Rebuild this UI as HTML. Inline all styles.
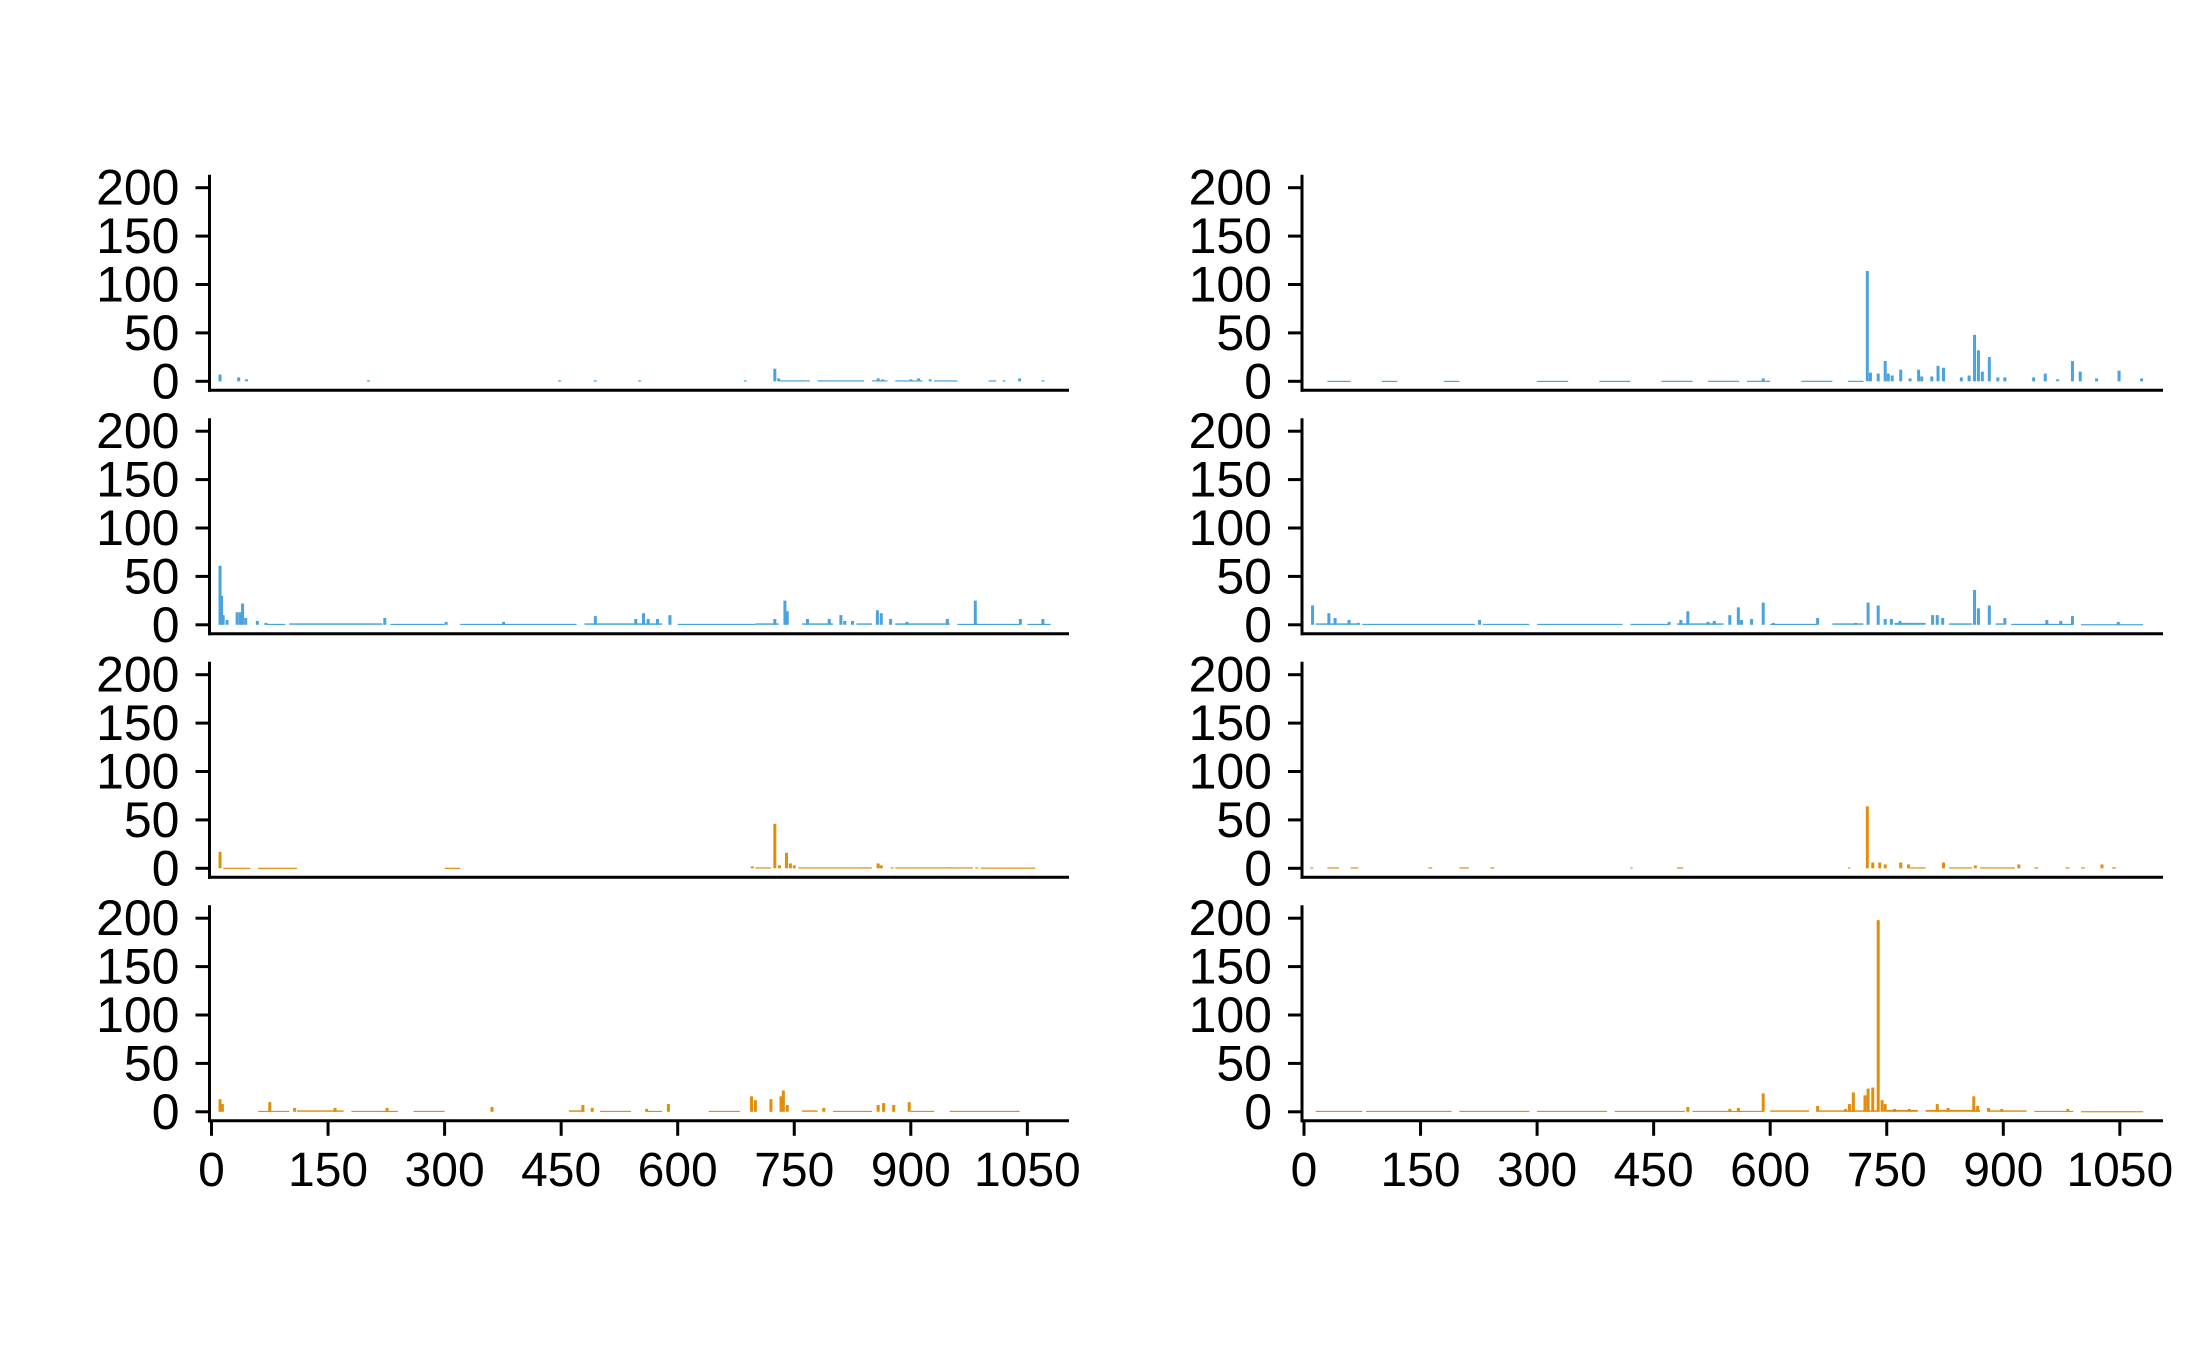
<!DOCTYPE html>
<html><head><meta charset="utf-8"><style>
html,body{margin:0;padding:0;background:#fff;}
svg{display:block;}
text{font-family:"Liberation Sans",Arial,sans-serif;font-size:50px;fill:#000;}
text.xl{font-size:48px;}
</style></head><body>
<svg id="chart" width="2187" height="1351" viewBox="0 0 2187 1351" xmlns="http://www.w3.org/2000/svg"></svg>
<script>
// ----- data -----
const xTicks = [0,150,300,450,600,750,900,1050];
const yTicks = [0,50,100,150,200];
const panelNames = ['left-1','left-2','left-3','left-4','right-1','right-2','right-3','right-4'];
const panelColors = ['#4aa3df','#4aa3df','#e08e0b','#e08e0b','#4aa3df','#4aa3df','#e08e0b','#e08e0b'];
// peak bars: positions and values
const p1x = [11,35,45,202,448,494,551,687,725,730,760,785,858,864,900,910,925,1020,1040,1070];
const p1v = [7,4,2,1,1,1,1,1,13,3,1,1,3,2,2,3,2,1,3,1];
const p2x = [11,13,15,20,33,37,40,44,59,70,223,302,376,494,546,556,562,574,590,725,738,741,767,795,810,815,825,857,862,874,895,947,983,1041,1070];
const p2v = [61,30,10,5,13,13,22,7,4,2,7,3,3,9,6,12,6,6,10,6,25,14,6,6,10,4,4,15,12,6,3,6,25,6,6];
const p3x = [11,696,725,731,740,745,750,858,862,840,876,950,985];
const p3v = [17,2,46,3,16,5,3,5,3,1,1,1,1];
const p4x = [11,14,75,107,159,226,361,478,490,560,588,695,700,720,733,736,741,788,858,865,878,898];
const p4v = [13,8,10,4,4,4,5,7,4,3,8,16,12,13,16,22,7,4,7,9,7,10];
const p5x = [591,725,729,739,748,752,757,768,780,791,795,808,816,823,846,856,863,868,873,882,893,902,939,954,970,989,999,1020,1049,1078];
const p5v = [3,114,9,8,21,8,6,12,3,12,5,5,16,14,4,6,48,32,10,25,4,4,4,8,2,21,10,3,11,3];
const p6x = [11,32,40,58,70,226,470,485,494,520,528,548,559,563,576,591,604,661,710,726,739,748,756,767,809,815,822,863,868,882,902,956,974,989,1048];
const p6v = [20,12,7,5,2,5,3,5,14,3,4,10,18,5,6,23,2,7,2,23,20,6,6,4,10,10,7,36,17,20,7,5,4,9,3];
const p7x = [10,725,732,741,748,768,778,823,864,920,1027];
const p7v = [1,64,6,6,4,6,4,6,3,4,4];
const p8x = [494,548,559,591,661,697,702,707,722,726,732,739,744,748,760,779,815,829,862,867,881,898,983];
const p8v = [5,3,4,19,6,3,8,20,17,24,25,198,12,8,3,3,8,4,16,6,4,3,3];
// baseline segments: start, end, value
const b1s = [730,780,850,880,930,1000]; const b1e = [770,840,870,915,960,1010]; const b1v = [1,1,1,1,1,1];
const b2s = [70,100,230,320,480,600,700,760,830,880,960,1050]; const b2e = [95,220,300,470,580,700,730,800,850,950,1040,1080]; const b2v = [1,1.5,1,1,1.5,1,1.5,1.5,1.5,1.5,1,1];
const b3s = [15,60,300,700,755,880,990]; const b3e = [50,110,320,720,850,980,1060]; const b3v = [0.6,0.6,0.6,1,1,1,0.8];
const b4s = [60,110,180,260,460,500,560,640,760,800,900,950]; const b4e = [100,170,240,300,480,540,580,680,780,850,930,1040]; const b4v = [1,1.5,1,1,1.5,1,1,1,1.5,1,1,1];
const b5s = [30,100,180,300,380,460,520,570,640,700]; const b5e = [60,120,200,340,420,500,560,600,680,720]; const b5v = [0.5,0.5,0.5,0.5,0.5,0.6,0.6,0.6,0.6,0.6];
const b6s = [15,75,230,300,420,480,600,680,760,830,890,910,1000]; const b6e = [70,220,290,410,470,540,660,720,800,860,900,990,1080]; const b6v = [1.5,1,1,1,1,1.5,1,1.5,2,1.5,1.5,1,0.7];
const b7s = [30,60,160,200,240,420,480,700,780,830,870,940,980,1000,1040]; const b7e = [45,70,165,212,245,423,488,703,800,860,915,945,985,1005,1045]; const b7v = [1,1,1,1,1,1,1,1,1,1,1,1,1,1,1];
const b8s = [15,80,200,300,400,500,600,660,750,800,880,940,1000]; const b8e = [75,190,290,390,490,590,650,740,790,870,930,990,1080]; const b8v = [1,1,1,1,1,1,1.5,1.5,2,2,1.5,1,0.7];
const peakX = [p1x,p2x,p3x,p4x,p5x,p6x,p7x,p8x];
const peakV = [p1v,p2v,p3v,p4v,p5v,p6v,p7v,p8v];
const baseS = [b1s,b2s,b3s,b4s,b5s,b6s,b7s,b8s];
const baseE = [b1e,b2e,b3e,b4e,b5e,b6e,b7e,b8e];
const baseV = [b1v,b2v,b3v,b4v,b5v,b6v,b7v,b8v];

// ----- layout -----
const NS='http://www.w3.org/2000/svg';
const svg=document.getElementById('chart');
const axisXs=[209.5,1302];
const axisEnds=[1069,2163];
const zeros=[381.3,624.8,868.3,1111.8];
const pxPerUnitY=193.6/200;
const pxPerUnitX=0.777;
function mk(tag,attrs,parent){const e=document.createElementNS(NS,tag);for(const k in attrs)e.setAttribute(k,attrs[k]);(parent||svg).appendChild(e);return e;}

for(let p=0;p<8;p++){
  const col=Math.floor(p/4), row=p%4;
  const ax=axisXs[col], x0=ax+2, z=zeros[row];
  const xs=v=>x0+v*pxPerUnitX;
  const ys=v=>z-v*pxPerUnitY;
  const g=mk('g',{});
  
  
  for(let i=0;i<baseS[p].length;i++){
    const r=mk('rect',{x:xs(baseS[p][i]),y:ys(baseV[p][i]),width:xs(baseE[p][i])-xs(baseS[p][i]),height:Math.max(1.2,baseV[p][i]*pxPerUnitY),fill:panelColors[p]},g);
    
    
  }
  for(let i=0;i<peakX[p].length;i++){
    const v=peakV[p][i];
    const r=mk('rect',{x:xs(peakX[p][i])-1.5,y:ys(v),width:3,height:Math.max(1.2,v*pxPerUnitY),fill:panelColors[p]},g);
    
    
  }
  const yl=mk('line',{x1:ax,y1:ys(200)-13,x2:ax,y2:z+10.5,stroke:'#000','stroke-width':3},g);
  
  
  for(const t of yTicks){
    mk('line',{x1:ax-14,y1:ys(t),x2:ax,y2:ys(t),stroke:'#000','stroke-width':3},g);
    const tx=mk('text',{x:ax-30,y:ys(t),'text-anchor':'end','dominant-baseline':'central'},g);
    tx.textContent=t;
    
    
  }
  const xl=mk('line',{x1:ax-1.5,y1:z+9,x2:axisEnds[col],y2:z+9,stroke:'#000','stroke-width':3},g);
  
  
  if(row===3){
    for(const t of xTicks){
      mk('line',{x1:xs(t),y1:z+9,x2:xs(t),y2:z+24,stroke:'#000','stroke-width':3},g);
      const tx=mk('text',{x:xs(t),y:z+74,'text-anchor':'middle','class':'xl'},g);
      tx.textContent=t;
      
      
    }
  }
}
</script>
</body></html>
